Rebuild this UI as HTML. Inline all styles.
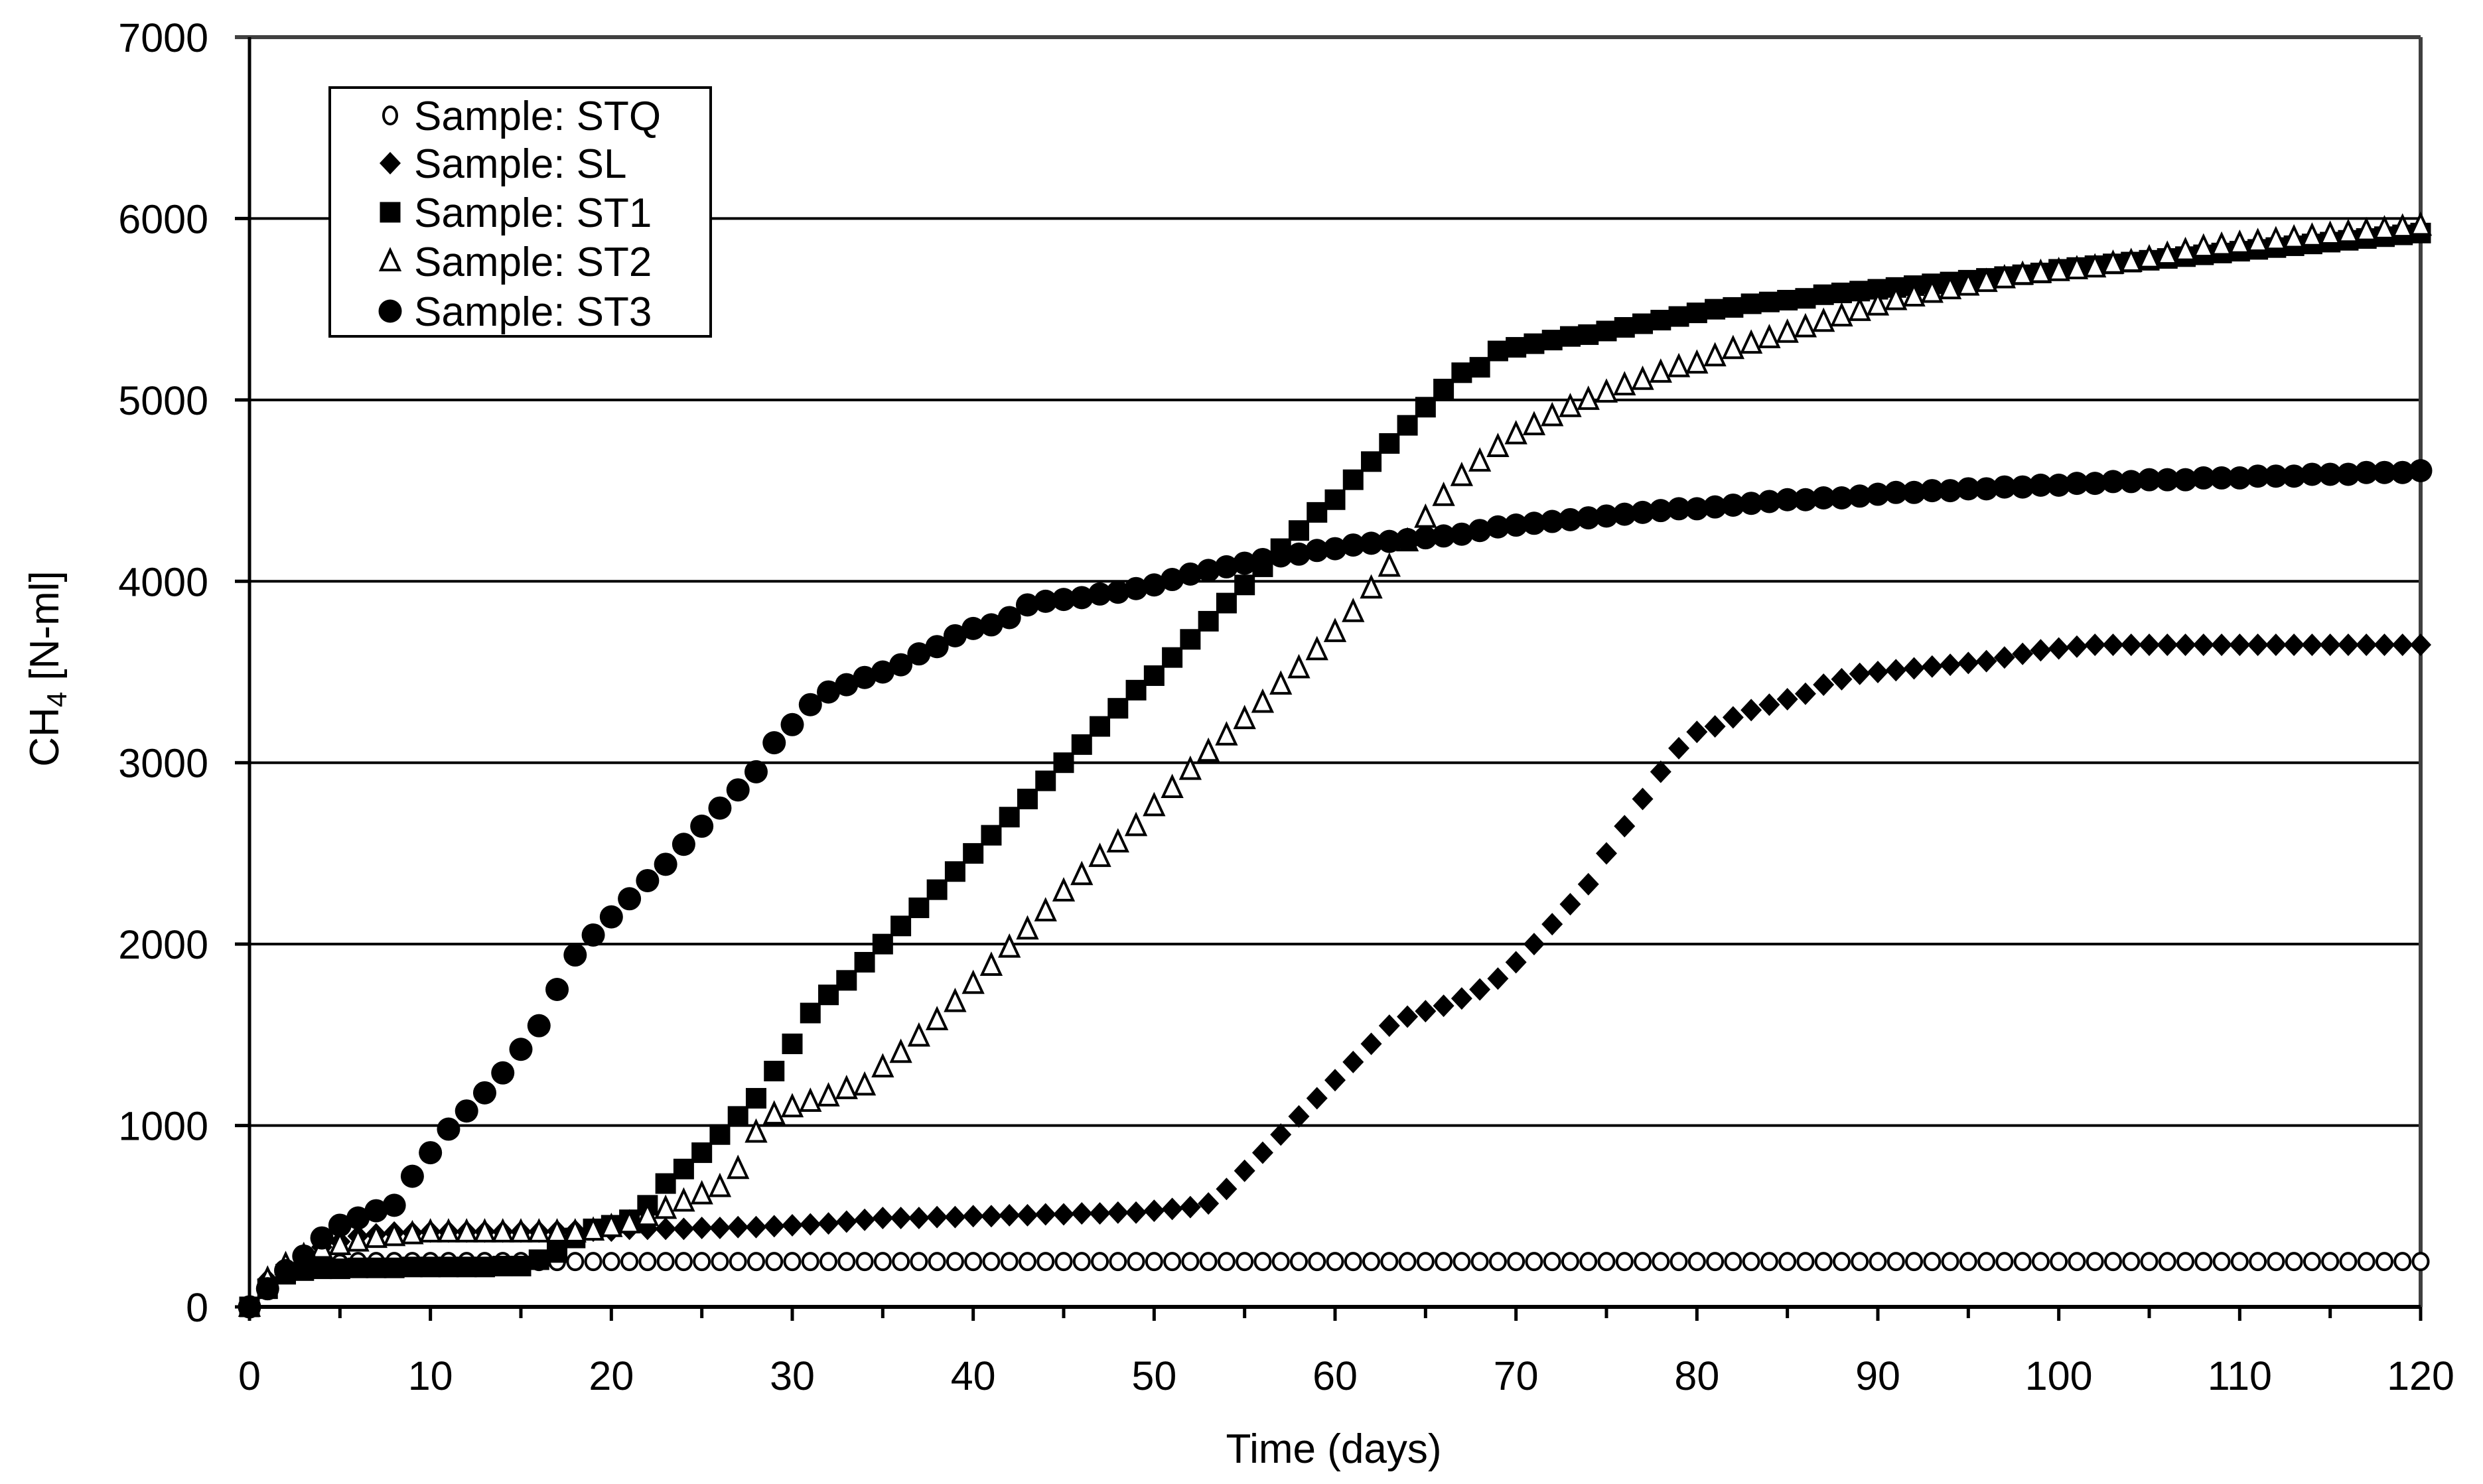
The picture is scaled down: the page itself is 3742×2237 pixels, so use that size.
<!DOCTYPE html>
<html><head><meta charset="utf-8"><style>
html,body{margin:0;padding:0;background:#fff;}
svg{display:block;font-family:"Liberation Sans",Arial,sans-serif;}
</style></head><body>
<svg id="chart" width="3742" height="2237" viewBox="0 0 3742 2237" xmlns="http://www.w3.org/2000/svg">
<rect width="3742" height="2237" fill="#fff"/>
<g id="grid"></g>
<g id="axes"></g>
<g id="marks"></g>
<text x="2010" y="2205" font-size="62" text-anchor="middle">Time (days)</text>
<text transform="translate(88,1008) rotate(-90)" font-size="62" text-anchor="middle">CH<tspan font-size="42" dy="12">4</tspan><tspan dy="-12"> [N-ml]</tspan></text>
<g>
<rect x="497" y="132" width="574" height="375" fill="#fff" stroke="#000" stroke-width="4"/>
<g id="legend-entries"></g>
</g>
</svg>
<script>
const xTicks = [0,10,20,30,40,50,60,70,80,90,100,110,120];
const yTicks = [0,1000,2000,3000,4000,5000,6000,7000];
const seriesNames = ["Sample: STQ","Sample: SL","Sample: ST1","Sample: ST2","Sample: ST3"];
const days = Array.from({length:121},(_,i)=>i);
const stq = [0,100,180,210,230,240,250,250,250,250,250,250,250,250,250,250,250,250,250,250,250,250,250,250,250,250,250,250,250,250,250,250,250,250,250,250,250,250,250,250,250,250,250,250,250,250,250,250,250,250,250,250,250,250,250,250,250,250,250,250,250,250,250,250,250,250,250,250,250,250,250,250,250,250,250,250,250,250,250,250,250,250,250,250,250,250,250,250,250,250,250,250,250,250,250,250,250,250,250,250,250,250,250,250,250,250,250,250,250,250,250,250,250,250,250,250,250,250,250,250,250];
const sl = [0,150,220,280,330,360,390,400,410,410,415,415,415,415,415,415,415,418,420,420,420,430,430,430,430,435,435,440,440,445,450,455,460,470,480,490,490,490,495,495,500,500,505,505,510,510,515,515,520,520,530,540,550,570,650,750,850,950,1050,1150,1250,1350,1450,1550,1600,1630,1660,1700,1750,1810,1900,2000,2110,2220,2330,2500,2650,2800,2950,3080,3170,3200,3250,3290,3320,3350,3380,3430,3460,3490,3500,3510,3520,3530,3540,3550,3560,3580,3600,3620,3630,3640,3650,3650,3650,3650,3650,3650,3650,3650,3650,3650,3650,3650,3650,3650,3650,3650,3650,3650,3650];
const st1 = [0,100,180,200,210,210,215,215,215,220,220,220,220,220,225,225,260,300,380,430,450,480,560,680,760,850,950,1050,1150,1300,1450,1620,1720,1800,1900,2000,2100,2200,2300,2400,2500,2600,2700,2800,2900,3000,3100,3200,3300,3400,3480,3580,3680,3780,3880,3980,4080,4180,4280,4380,4450,4560,4660,4760,4860,4960,5060,5150,5180,5270,5290,5310,5330,5350,5360,5380,5400,5420,5440,5460,5480,5500,5510,5530,5540,5550,5560,5580,5590,5600,5610,5620,5630,5640,5650,5660,5670,5680,5690,5700,5720,5730,5740,5750,5760,5770,5780,5790,5800,5810,5820,5830,5840,5850,5860,5870,5880,5890,5900,5910,5920];
const st2 = [0,150,230,280,320,340,360,380,390,400,410,410,410,410,410,410,410,410,410,420,440,460,500,540,580,620,660,760,960,1060,1100,1130,1160,1200,1220,1320,1400,1490,1580,1680,1780,1880,1980,2080,2180,2290,2380,2480,2560,2650,2760,2860,2960,3060,3150,3240,3330,3430,3520,3620,3720,3830,3960,4080,4220,4350,4470,4580,4660,4740,4810,4860,4910,4960,5000,5040,5080,5110,5150,5180,5200,5240,5280,5310,5340,5370,5400,5430,5460,5490,5520,5550,5570,5590,5610,5630,5650,5670,5690,5700,5710,5720,5730,5750,5760,5780,5800,5820,5840,5850,5860,5870,5880,5890,5900,5910,5920,5930,5940,5950,5960];
const st3 = [0,100,200,280,380,450,490,530,560,720,850,980,1080,1180,1290,1420,1550,1750,1940,2050,2150,2250,2350,2440,2550,2650,2750,2850,2950,3110,3210,3320,3390,3430,3470,3500,3540,3600,3640,3700,3740,3760,3800,3870,3890,3900,3910,3930,3940,3960,3980,4010,4040,4060,4080,4100,4120,4140,4150,4170,4180,4200,4210,4220,4230,4240,4250,4260,4280,4300,4310,4320,4330,4340,4350,4360,4370,4380,4390,4400,4400,4410,4420,4430,4440,4450,4450,4460,4460,4470,4480,4490,4490,4500,4500,4510,4510,4520,4520,4530,4530,4540,4540,4550,4550,4560,4560,4560,4570,4570,4570,4580,4580,4580,4590,4590,4590,4600,4600,4600,4610];

const NS="http://www.w3.org/2000/svg";
const X0=376, X1=3648, Y0=1970, Y1=56;
function xs(v){return X0+(v-0)/(120-0)*(X1-X0);}
function ys(v){return Y0-(v-0)/(7000-0)*(Y0-Y1);}
function mk(tag,attrs,parent){const e=document.createElementNS(NS,tag);for(const k in attrs)e.setAttribute(k,attrs[k]);parent.appendChild(e);return e;}
const gridG=document.getElementById('grid'), axesG=document.getElementById('axes'), marksG=document.getElementById('marks');

yTicks.forEach(v=>{
  if(v>0 && v<7000){
    const l=mk('line',{x1:X0,x2:X1,y1:ys(v),y2:ys(v),stroke:'#000','stroke-width':4},gridG);
    
    
  }
  const t=mk('line',{x1:X0-22,x2:X0,y1:ys(v),y2:ys(v),stroke:'#000','stroke-width':5},axesG);
  
  
  const tx=mk('text',{x:314,y:ys(v)+22,'font-size':61,'text-anchor':'end'},axesG);
  tx.textContent=v;
  
  
});
const topBorder=mk('line',{x1:X0-22,x2:X1,y1:Y1,y2:Y1,stroke:'#404040','stroke-width':6},axesG);


const rightBorder=mk('line',{x1:X1,x2:X1,y1:Y1,y2:Y0,stroke:'#404040','stroke-width':6},axesG);


const yAxisLine=mk('line',{x1:X0,x2:X0,y1:Y1,y2:Y0,stroke:'#000','stroke-width':5},axesG);


const xAxisLine=mk('line',{x1:X0,x2:X1,y1:Y0,y2:Y0,stroke:'#000','stroke-width':6},axesG);


for(let d=0;d<=120;d+=5){
  const major=d%10===0;
  const t=mk('line',{x1:xs(d),x2:xs(d),y1:Y0,y2:Y0+(major?21:17),stroke:'#000','stroke-width':5},axesG);
  
  
}
xTicks.forEach(v=>{
  const tx=mk('text',{x:xs(v),y:2095,'font-size':61,'text-anchor':'middle'},axesG);
  tx.textContent=v;
  
  
});

function drawMarker(type,cx,cy,parent){
  let e;
  if(type==='ocircle') e=mk('ellipse',{cx:cx,cy:cy,rx:11.5,ry:12.5,fill:'#fff',stroke:'#000','stroke-width':4},parent);
  else if(type==='diamond') e=mk('polygon',{points:`${cx},${cy-17} ${cx+16},${cy} ${cx},${cy+17} ${cx-16},${cy}`,fill:'#000'},parent);
  else if(type==='square') e=mk('rect',{x:cx-15.5,y:cy-15.5,width:31,height:31,fill:'#000'},parent);
  else if(type==='triangle') e=mk('polygon',{points:`${cx},${cy-17} ${cx+14},${cy+13} ${cx-14},${cy+13}`,fill:'#fff',stroke:'#000','stroke-width':4},parent);
  else e=mk('circle',{cx:cx,cy:cy,r:17.5,fill:'#000'},parent);
  return e;
}
const seriesData=[stq,sl,st1,st2,st3];
const types=['ocircle','diamond','square','triangle','fcircle'];
const keys=['stq','sl','st1','st2','st3'];
seriesData.forEach((arr,si)=>{
  const g=mk('g',{},marksG);
  
  
  arr.forEach((v,i)=>{
    const m=drawMarker(types[si],xs(days[i]),ys(v),g);
    
    
  });
});
const le=document.getElementById('legend-entries');
const rowY=[174,246,320,394,469];
seriesNames.forEach((n,i)=>{
  const g=mk('g',{},le);
  
  
  const m=drawMarker(types[i],588,rowY[i],g);
  if(types[i]==='ocircle'){m.setAttribute('rx',10);m.setAttribute('ry',13);}
  const t=mk('text',{x:624,y:rowY[i]+22,'font-size':62},g);
  t.textContent=n;
});
</script>
</body></html>
